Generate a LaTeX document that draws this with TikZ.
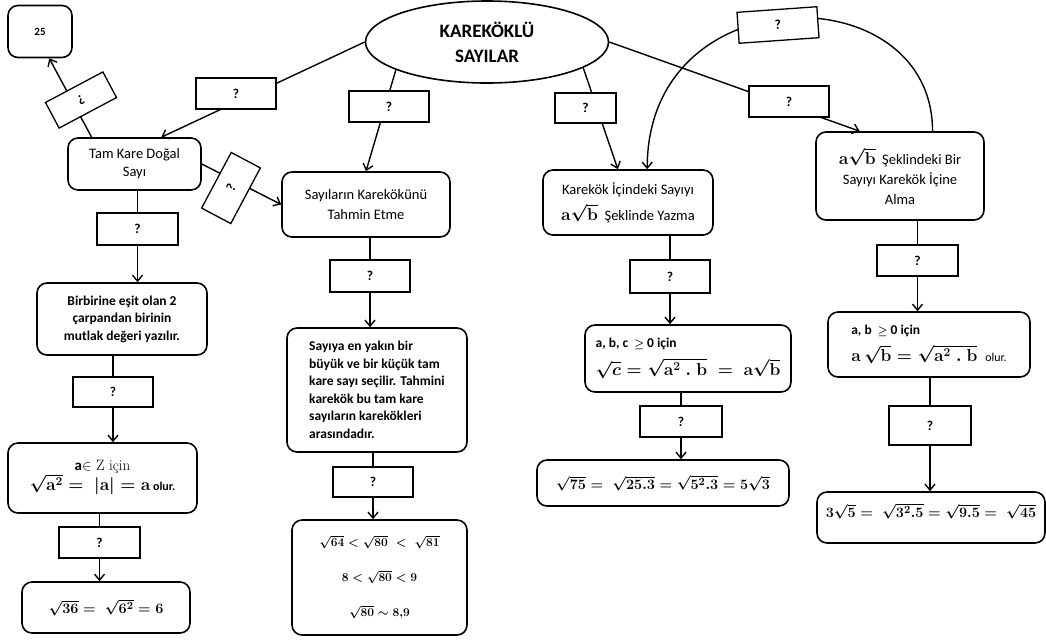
\documentclass[tikz,border=0pt]{standalone}
\usepackage[no-math]{fontspec}
\usepackage{amsmath}
\newfontfamily\carlito{Carlito}
\newcommand{\kalin}[1]{{\boldmath$#1$}}
\usetikzlibrary{shapes.geometric,arrows.meta}

\begin{document}
\begin{tikzpicture}[x=1pt, y=-1pt, line width=1.4pt,
    every node/.style={font=\carlito\fontsize{14.5}{19}\selectfont},
    kutu/.style={draw, line width=1.6pt, rounded corners=10pt, align=center, inner sep=2pt},
    kalinyazi/.style={font=\carlito\bfseries\fontsize{13.5}{17.5}\selectfont},
    soru/.style={draw, fill=white, line width=1.3pt, inner sep=0pt,
        minimum width=80pt, minimum height=31pt, font=\carlito\bfseries\fontsize{13.5}{15}\selectfont},
    oklu/.style={-{Straight Barb[length=6pt,width=10pt]}}]
  \useasboundingbox (0,0) rectangle (1046,641);

  \node[ellipse, draw, line width=1.6pt, minimum width=243pt, minimum height=82pt, inner sep=0pt,
        align=center, font=\carlito\bfseries\fontsize{19}{25}\selectfont] (kok) at (487,42) {KAREKÖKLÜ\\SAYILAR};
  \node[kutu, minimum width=64pt, minimum height=52pt, font=\carlito\bfseries\fontsize{11}{13}\selectfont] (yirmibes) at (40,31.5) {25};

  \node[kutu, minimum width=133pt, minimum height=52pt, font=\carlito\fontsize{14.5}{18}\selectfont] (tam) at (134.5,164) {Tam Kare Doğal\\Sayı};
  \node[kutu, minimum width=168pt, minimum height=65pt, font=\carlito\fontsize{14.5}{20}\selectfont] (tahmin) at (366,204.5) {Sayıların Karekökünü\\Tahmin Etme};
  \node[kutu, minimum width=170pt, minimum height=65pt] (icinde) at (628,202.5)
      {Karekök İçindeki Sayıyı\\[6pt]{\fontsize{17}{20}\selectfont\kalin{\mathbf{a}\sqrt{\mathbf{b}}}}\ \ Şeklinde Yazma};
  \node[kutu, minimum width=168pt, minimum height=88pt, font=\carlito\fontsize{14.5}{20}\selectfont] (alma) at (900,176)
      {{\fontsize{17}{20}\selectfont\kalin{\mathbf{a}\sqrt{\mathbf{b}}}}\ \ Şeklindeki Bir\\Sayıyı Karekök İçine\\Alma};

  \node[kutu, kalinyazi, minimum width=170pt, minimum height=72pt] (birbirine) at (122,319)
      {Birbirine eşit olan 2\\çarpandan birinin\\mutlak değeri yazılır.};
  \node[kutu, minimum width=189pt, minimum height=70pt, font=\fontsize{15}{20}\selectfont] (tamsayi) at (102.5,478)
      {{\carlito\bfseries a}$\in$ Z için\\{\fontsize{17}{20}\selectfont\kalin{\sqrt{\mathbf{a}^2} = \ |\mathbf{a}| = \mathbf{a}}}{\carlito\bfseries\fontsize{12}{14}\selectfont\ olur.}};
  \node[kutu, minimum width=168pt, minimum height=51pt, font=\fontsize{15}{18}\selectfont] (otuzalti) at (106,607.5)
      {\kalin{\sqrt{36} = \ \sqrt{6^2} = 6}};

  \node[kutu, kalinyazi, minimum width=180pt, minimum height=124pt, align=left] (sayiya) at (377,390)
      {Sayıya en yakın bir\\büyük ve bir küçük tam\\kare sayı seçilir. Tahmini\\karekök bu tam kare\\sayıların karekökleri\\arasındadır.};
  \node[kutu, minimum width=175pt, minimum height=115pt, font=\fontsize{13}{35}\selectfont] (seksen) at (379.5,577.5)
      {\kalin{\sqrt{64} < \sqrt{80} \ < \ \sqrt{81}}\\\kalin{8 < \sqrt{80} < 9}\\\kalin{\sqrt{80} \sim 8{,}9}};

  \node[kutu, minimum width=206pt, minimum height=67pt, align=left, font=\fontsize{17}{21}\selectfont] (abc) at (688,358.5)
      {{\carlito\bfseries\fontsize{13.5}{15}\selectfont a, b, c\ \ {\fontsize{11}{13}\selectfont\kalin{\geq}} 0 için}\\[7pt]\kalin{\sqrt{c} = \sqrt{\mathbf{a}^2\ .\ \mathbf{b}} \ = \ \mathbf{a}\sqrt{\mathbf{b}}}};
  \node[kutu, minimum width=252pt, minimum height=46pt, font=\fontsize{15}{18}\selectfont] (yetmisbes) at (663,483)
      {\kalin{\sqrt{75} = \ \sqrt{25.3} = \sqrt{5^2.3} = 5\sqrt{3}}};

  \node[kutu, minimum width=202pt, minimum height=65pt, align=left, font=\fontsize{17}{21}\selectfont] (ab) at (929,344.5)
      {{\carlito\bfseries\fontsize{13.5}{15}\selectfont a, b\ \ {\fontsize{11}{13}\selectfont\kalin{\geq}} 0 için}\\[6pt]\kalin{\mathbf{a}\,\sqrt{\mathbf{b}} = \sqrt{\mathbf{a}^2\ .\ \mathbf{b}}}\ {\carlito\fontsize{12}{14}\selectfont\ olur.}};
  \node[kutu, minimum width=228pt, minimum height=51pt, font=\fontsize{15}{18}\selectfont, text depth=14pt] (kirkbes) at (931,517.5)
      {\kalin{3\sqrt{5} = \ \sqrt{3^2.5} = \sqrt{9.5} = \ \sqrt{45}}};

  \draw[oklu] (kok.west) -- (tam.45);
  \draw[oklu] (kok.197) -- (tahmin.north);
  \draw[oklu] (kok.-15) -- (icinde.107);
  \draw[oklu] (kok.east) -- (alma.132);
  \draw[oklu] (tam.148) -- (yirmibes.-71);
  \draw[oklu] (tam.east) -- (tahmin.west);
  \draw[oklu] (alma.54) .. controls +(0,-157) and +(0,-195) .. (icinde.60);

  \node[soru] (q1) at (236,93.5) {?};
  \node[soru] (q2) at (389,106.5) {?};
  \node[soru, minimum width=61pt, minimum height=30pt] (q3) at (585.5,108) {?};
  \node[soru] (q4) at (789,101.5) {?};
  \node[soru, minimum width=65pt, minimum height=29pt, rotate=208] (q5) at (81,100) {?};
  \node[soru, minimum width=63pt, minimum height=33pt, rotate=62] (q6) at (231,188) {?};
  \node[soru, rotate=4] (q7) at (778,25) {?};

  \node[soru, minimum width=81pt, minimum height=32pt] (q8) at (137.5,229) {?};
  \node[soru, minimum height=30pt] (q9) at (113,392) {?};
  \node[soru, minimum width=81pt] (q10) at (99.5,542.5) {?};
  \node[soru, minimum height=32pt] (q11) at (370,276) {?};
  \node[soru, minimum height=30pt] (q12) at (373,482) {?};
  \node[soru, minimum height=33pt] (q13) at (670,276.5) {?};
  \node[soru, minimum width=82pt] (q14) at (681,421.5) {?};
  \node[soru, minimum width=81pt] (q15) at (917.5,260.5) {?};
  \node[soru, minimum width=82pt, minimum height=39pt] (q16) at (930,425.5) {?};

  \draw (tam.south -| q8) -- (q8);
  \draw[oklu] (q8) -- (birbirine.north -| q8);
  \draw (birbirine.south -| q9) -- (q9);
  \draw[oklu] (q9) -- (tamsayi.north -| q9);
  \draw (tamsayi.south -| q10) -- (q10);
  \draw[oklu] (q10) -- (otuzalti.north -| q10);
  \draw (tahmin.south -| q11) -- (q11);
  \draw[oklu] (q11) -- (sayiya.north -| q11);
  \draw (sayiya.south -| q12) -- (q12);
  \draw[oklu] (q12) -- (seksen.north -| q12);
  \draw (icinde.south -| q13) -- (q13);
  \draw[oklu] (q13) -- (abc.north -| q13);
  \draw (abc.south -| q14) -- (q14);
  \draw[oklu] (q14) -- (yetmisbes.north -| q14);
  \draw (alma.south -| q15) -- (q15);
  \draw[oklu] (q15) -- (ab.north -| q15);
  \draw (ab.south -| q16) -- (q16);
  \draw[oklu] (q16) -- (kirkbes.north -| q16);
\end{tikzpicture}
\end{document}
